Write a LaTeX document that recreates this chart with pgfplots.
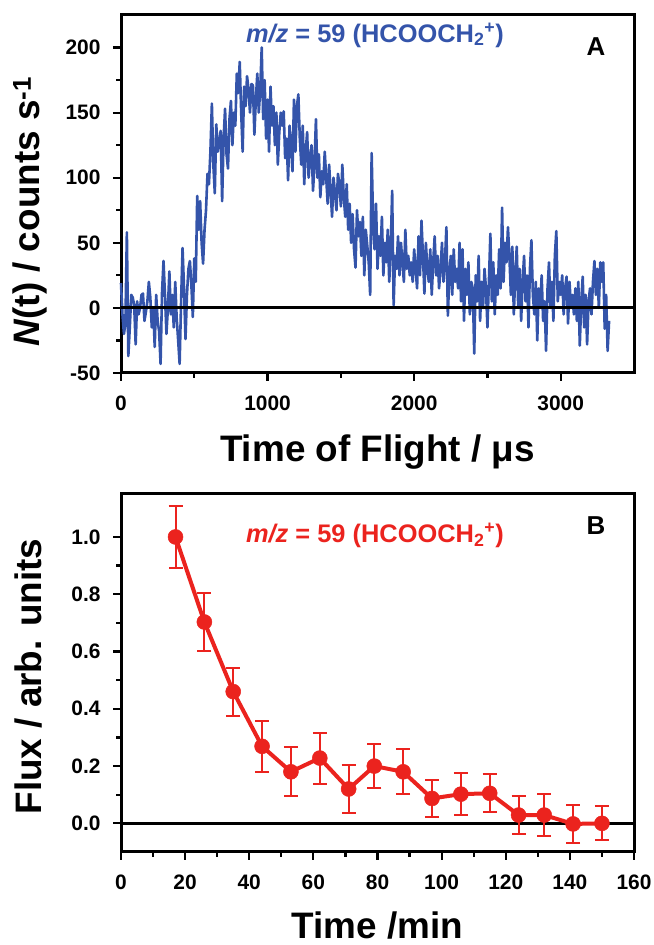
\documentclass[border=0pt]{standalone}
\usepackage{pgfplots}
\pgfplotsset{compat=1.18}
\usepackage{fontspec}
\setmainfont{Liberation Sans}
\definecolor{tofblue}{RGB}{52,84,170}
\definecolor{fluxred}{RGB}{235,35,30}
\pgfplotsset{
  panel/.style={
    scale only axis, width=513bp, height=358bp, anchor=south west,
    axis line style={line width=3bp},
    tick style={line width=2.2bp, black},
    major tick length=8bp, minor tick length=5bp,
    tick align=outside, xtick pos=bottom, ytick pos=left,
    minor x tick num=1, minor y tick num=1,
    ticklabel style={font=\fontsize{21}{24}\selectfont\bfseries},
    xticklabel style={yshift=-11bp},
    yticklabel style={xshift=-9bp},
    label style={font=\fontsize{37}{40}\selectfont\bfseries, inner sep=0pt},
    clip=false,
  }
}
\begin{document}
\begin{tikzpicture}[x=1bp,y=1bp]
\useasboundingbox (0,0) rectangle (654,945);
% ---------------- Panel A ----------------
\begin{axis}[panel, at={(121bp,572bp)},
  xmin=0, xmax=3500, ymin=-50, ymax=225,
  xtick={0,1000,2000,3000}, xticklabels={0,1000,2000,3000},
  ytick={-50,0,50,100,150,200}, yticklabels={-50,0,50,100,150,200},
  xlabel={Time of Flight / μs},
  ylabel={\textit{N}(t) / counts s\textsuperscript{-1}},
  x label style={at={(axis description cs:0.5,-0.22)}, anchor=center},
  y label style={at={(axis description cs:-0.177,0.45)}, anchor=center},
]
\addplot[tofblue, line width=2.6bp, line join=round] table[row sep=\\] {
x y\\
0 19\\ 10 -5\\ 20 -20\\ 30 -12\\ 40 58\\ 50 -37\\ 60 -15\\ 70 10\\ 80 8\\ 90 2\\
100 -28\\ 110 5\\ 120 -5\\ 130 0\\ 140 10\\ 150 11\\ 160 -10\\ 170 -3\\ 180 5\\ 190 20\\
200 8\\ 210 -15\\ 220 0\\ 230 -30\\ 240 10\\ 250 -10\\ 260 -18\\ 270 -43\\ 280 12\\ 290 36\\
300 10\\ 310 -20\\ 320 0\\ 330 28\\ 340 -5\\ 350 10\\ 360 -15\\ 370 20\\ 380 -8\\ 390 -25\\
400 -43\\ 410 5\\ 420 46\\ 430 15\\ 440 -24\\ 450 10\\ 460 30\\ 470 36\\ 480 18\\ 490 -7\\
500 38\\ 510 20\\ 520 86\\ 530 60\\ 540 82\\ 550 50\\ 560 34\\ 570 60\\ 580 75\\ 590 103\\
600 95\\ 610 120\\ 620 157\\ 630 110\\ 640 88\\ 650 141\\ 660 120\\ 670 128\\ 680 136\\ 690 82\\
700 130\\ 710 153\\ 720 118\\ 730 107\\ 740 145\\ 750 159\\ 760 125\\ 770 150\\ 780 140\\ 790 180\\
800 165\\ 810 189\\ 820 150\\ 830 120\\ 840 170\\ 850 155\\ 860 178\\ 870 168\\ 880 150\\ 890 172\\
900 171\\ 910 133\\ 920 160\\ 930 180\\ 940 150\\ 950 168\\ 960 200\\ 970 145\\ 980 175\\ 990 130\\
1000 160\\ 1010 120\\ 1020 170\\ 1030 140\\ 1040 155\\ 1050 125\\ 1060 150\\ 1070 110\\ 1080 135\\ 1090 150\\
1100 140\\ 1110 151\\ 1120 115\\ 1130 130\\ 1140 98\\ 1150 140\\ 1160 125\\ 1170 105\\ 1180 160\\ 1190 120\\
1200 155\\ 1210 164\\ 1220 130\\ 1230 110\\ 1240 140\\ 1250 95\\ 1260 120\\ 1270 135\\ 1280 100\\ 1290 115\\
1300 125\\ 1310 90\\ 1320 110\\ 1330 145\\ 1340 100\\ 1350 118\\ 1360 85\\ 1370 105\\ 1380 95\\ 1390 120\\
1400 100\\ 1410 80\\ 1420 110\\ 1430 90\\ 1440 70\\ 1450 100\\ 1460 88\\ 1470 75\\ 1480 103\\ 1490 95\\
1500 78\\ 1510 110\\ 1520 85\\ 1530 70\\ 1540 95\\ 1550 60\\ 1560 80\\ 1570 50\\ 1580 72\\ 1590 45\\
1600 31\\ 1610 75\\ 1620 55\\ 1630 66\\ 1640 40\\ 1650 70\\ 1660 25\\ 1670 60\\ 1680 48\\ 1690 35\\
1700 10\\ 1710 119\\ 1720 65\\ 1730 45\\ 1740 80\\ 1750 30\\ 1760 55\\ 1770 40\\ 1780 70\\ 1790 25\\
1800 50\\ 1810 35\\ 1820 60\\ 1830 20\\ 1840 45\\ 1850 90\\ 1860 2\\ 1870 40\\ 1880 30\\ 1890 55\\
1900 25\\ 1910 50\\ 1920 35\\ 1930 20\\ 1940 60\\ 1950 30\\ 1960 40\\ 1970 25\\ 1980 35\\ 1990 20\\
2000 45\\ 2010 30\\ 2020 15\\ 2030 55\\ 2040 25\\ 2050 67\\ 2060 40\\ 2070 11\\ 2080 50\\ 2090 30\\
2100 20\\ 2110 45\\ 2120 10\\ 2130 35\\ 2140 55\\ 2150 25\\ 2160 40\\ 2170 15\\ 2180 30\\ 2190 50\\
2200 20\\ 2210 35\\ 2220 62\\ 2230 -6\\ 2240 25\\ 2250 40\\ 2260 10\\ 2270 45\\ 2280 20\\ 2290 30\\
2300 15\\ 2310 50\\ 2320 5\\ 2330 45\\ 2340 -10\\ 2350 30\\ 2360 10\\ 2370 35\\ 2380 -5\\ 2390 20\\
2400 15\\ 2410 -35\\ 2420 25\\ 2430 5\\ 2440 40\\ 2450 -10\\ 2460 20\\ 2470 0\\ 2480 30\\ 2490 15\\
2500 -15\\ 2510 20\\ 2520 57\\ 2530 5\\ 2540 35\\ 2550 -5\\ 2560 25\\ 2570 10\\ 2580 45\\ 2590 15\\
2600 77\\ 2610 20\\ 2620 50\\ 2630 35\\ 2640 62\\ 2650 39\\ 2660 10\\ 2670 47\\ 2680 -5\\ 2690 25\\
2700 47\\ 2710 0\\ 2720 30\\ 2730 -10\\ 2740 20\\ 2750 40\\ 2760 5\\ 2770 25\\ 2780 -15\\ 2790 30\\
2800 52\\ 2810 10\\ 2820 -5\\ 2830 20\\ 2840 -25\\ 2850 15\\ 2860 0\\ 2870 25\\ 2880 -10\\ 2890 5\\
2900 -33\\ 2910 15\\ 2920 35\\ 2930 0\\ 2940 20\\ 2950 -10\\ 2960 40\\ 2970 59\\ 2980 5\\ 2990 20\\
3000 10\\ 3010 25\\ 3020 -5\\ 3030 15\\ 3040 24\\ 3050 -12\\ 3060 20\\ 3070 0\\ 3080 10\\ 3090 -5\\
3100 15\\ 3110 -10\\ 3120 20\\ 3130 -29\\ 3140 5\\ 3150 24\\ 3160 -15\\ 3170 10\\ 3180 -28\\ 3190 5\\
3200 15\\ 3210 -5\\ 3220 20\\ 3230 36\\ 3240 10\\ 3250 30\\ 3260 0\\ 3270 35\\ 3280 20\\ 3290 35\\
3300 -16\\ 3310 10\\ 3320 -33\\ 3330 -10\\
};
\addplot[black, line width=3bp] coordinates {(0,0) (3500,0)};
\node[font=\fontsize{25.5}{28}\selectfont\bfseries, text=tofblue] at (axis description cs:0.495,0.944)
  {\textit{m/z} = 59 (HCOOCH\textsubscript{2}\textsuperscript{+})};
\node[font=\fontsize{26}{28}\selectfont\bfseries] at (axis description cs:0.926,0.911) {A};
\end{axis}
% ---------------- Panel B ----------------
\begin{axis}[panel, at={(121bp,93bp)},
  xmin=0, xmax=160, ymin=-0.1, ymax=1.15,
  xtick={0,20,40,60,80,100,120,140,160},
  xticklabels={0,20,40,60,80,100,120,140,160},
  ytick={0,0.2,0.4,0.6,0.8,1.0},
  yticklabels={0.0,0.2,0.4,0.6,0.8,1.0},
  xlabel={Time /min},
  ylabel={Flux / arb. units},
  x label style={at={(axis description cs:0.5,-0.205)}, anchor=center},
  y label style={at={(axis description cs:-0.181,0.49)}, anchor=center},
]
\addplot[black, line width=2.6bp] coordinates {(0,0) (160,0)};
\addplot[fluxred, line width=4bp, mark=*, mark size=7.5bp,
  mark options={line width=0.5bp, fill=fluxred},
  error bars/.cd, y dir=both, y explicit,
  error bar style={line width=2bp, fluxred},
  error mark options={rotate=90, mark size=7bp, line width=2bp, fluxred}]
  table[row sep=\\, y error=e] {
x y e\\
17 1.000 0.107\\
26 0.703 0.100\\
35 0.460 0.084\\
44 0.269 0.088\\
53 0.180 0.085\\
62 0.228 0.089\\
71 0.120 0.083\\
79 0.200 0.077\\
88 0.180 0.078\\
97 0.087 0.065\\
106 0.102 0.073\\
115 0.105 0.066\\
124 0.029 0.067\\
132 0.029 0.072\\
141 -0.002 0.065\\
150 0.000 0.059\\
};
\node[font=\fontsize{25.5}{28}\selectfont\bfseries, text=fluxred] at (axis description cs:0.495,0.885)
  {\textit{m/z} = 59 (HCOOCH\textsubscript{2}\textsuperscript{+})};
\node[font=\fontsize{26}{28}\selectfont\bfseries] at (axis description cs:0.926,0.913) {B};
\end{axis}
\end{tikzpicture}
\end{document}
